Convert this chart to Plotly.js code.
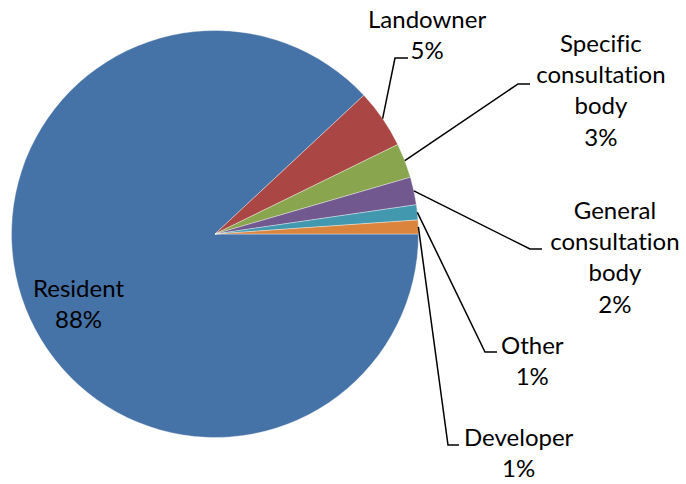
<!DOCTYPE html>
<html>
<head>
<meta charset="utf-8">
<script src="https://cdn.plot.ly/plotly-3.0.1.min.js"></script>
<style>
html,body{margin:0;padding:0;background:#fff;}
#chart{width:686px;height:484px;}
#chart svg text{font-variant-ligatures:none !important;font-feature-settings:"liga" 0,"clig" 0 !important;}
</style>
</head>
<body>
<div id="chart"></div>
<script>
// Data (order: clockwise from 3 o'clock)
const categories = ["Resident", "Landowner", "Specific consultation body", "General consultation body", "Other", "Developer"];
const labelLines = [["Resident"], ["Landowner"], ["Specific", "consultation", "body"], ["General", "consultation", "body"], ["Other"], ["Developer"]];
const shares = [88.1, 4.7, 2.75, 2.2, 1.2, 1.1];
const colors = ["#4572A7", "#AA4643", "#89A54E", "#71588F", "#4198AF", "#DB843D"];

// Layout constants (pixels)
const W = 686, H = 484;
const CX = 215, CY = 234, R = 203.5;
const px = x => x / W;
const py = y => 1 - y / H;

// Label placement (pixel centers) and leader elbows
const labelPos = {
  "Developer": {x: 519, y: 452, elbow: [448, 445], end: [459, 445]},
  "Other": {x: 532, y: 359.5, elbow: [485, 352], end: [497, 352]},
  "General consultation body": {x: 615, y: 256, elbow: [530, 249], end: [542, 249]},
  "Specific consultation body": {x: 601, y: 90, elbow: [518, 84], end: [530, 84]},
  "Landowner": {x: 427, y: 33.5, elbow: [395, 58], end: [408, 58]},
  "Resident": {x: 78, y: 303, inside: true}
};

const total = shares.reduce((a, b) => a + b, 0);
const annotations = [];
const shapes = [];
let cum = 0;
categories.forEach((c, i) => {
  const pct = Math.round(shares[i] / total * 100);
  const mid = -(cum + shares[i] / 2) / total * 2 * Math.PI; // clockwise from 3 o'clock
  cum += shares[i];
  const pos = labelPos[c];
  const text = labelLines[i].concat([pct + "%"]).join("<br>");
  annotations.push({
    x: px(pos.x), y: py(pos.y), xref: "paper", yref: "paper",
    xanchor: "center", yanchor: "middle", showarrow: false,
    text: text, align: "center",
    font: {family: "Lato, 'Open Sans', sans-serif", size: 24, color: "#000"}
  });
  if (!pos.inside) {
    const sx = CX + R * Math.cos(mid), sy = CY - R * Math.sin(mid);
    shapes.push({
      type: "path", xref: "paper", yref: "paper",
      path: "M " + px(sx) + "," + py(sy) + " L " + px(pos.elbow[0]) + "," + py(pos.elbow[1]) + " L " + px(pos.end[0]) + "," + py(pos.end[1]),
      line: {color: "#000", width: 1.5}
    });
  }
});

const trace = {
  type: "pie",
  labels: categories,
  values: shares,
  sort: false,
  direction: "clockwise",
  rotation: 90,
  textinfo: "none",
  hoverinfo: "label+percent",
  marker: {colors: colors, line: {color: "rgba(255,255,255,0.6)", width: 0.6}},
  domain: {x: [px(CX - R), px(CX + R)], y: [py(CY + R), py(CY - R)]},
  showlegend: false
};

const layout = {
  width: W, height: H,
  margin: {l: 0, r: 0, t: 0, b: 0},
  paper_bgcolor: "#fff",
  showlegend: false,
  annotations: annotations,
  shapes: shapes
};

Plotly.newPlot("chart", [trace], layout, {displayModeBar: false, staticPlot: true});
</script>
</body>
</html>
